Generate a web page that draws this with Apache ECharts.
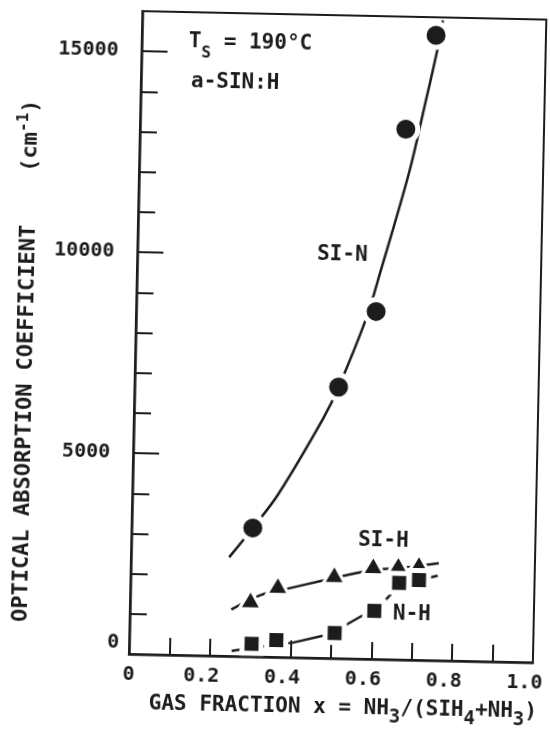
<!DOCTYPE html>
<html><head><meta charset="utf-8">
<script src="https://cdn.jsdelivr.net/npm/echarts@6/dist/echarts.min.js"></script>
<style>
html,body{margin:0;padding:0;background:#fff;overflow:hidden}
/* the reference is a slightly rotated scan */
#c{width:550px;height:733px;transform:rotate(1.2deg);transform-origin:50% 50%}
</style>
</head><body><div id="c"></div>
<script>
// ---- data ----
const xTickLabels = ['0', '0.2', '0.4', '0.6', '0.8', '1.0'];
const yTickLabels = ['0', '5000', '10000', '15000'];

// Si-N (circles) measured points
const siN_x = [0.30, 0.505, 0.594, 0.658, 0.728];
const siN_y = [3200, 6750, 8650, 13200, 15550];
// Si-N hand-drawn fit curve
const siNFit_x = [0.243, 0.30, 0.361, 0.468, 0.505, 0.569, 0.602, 0.669, 0.702, 0.733, 0.744];
const siNFit_y = [2460, 3200, 4050, 5950, 6750, 8450, 9620, 12150, 13720, 15250, 15930];

// Si-H (triangles)
const siH_x = [0.298, 0.365, 0.504, 0.600, 0.662, 0.713];
const siH_y = [1430, 1800, 2100, 2340, 2370, 2400];
const siHFit_x = [0.251, 0.324, 0.394, 0.476, 0.577, 0.63, 0.688, 0.762];
const siHFit_y = [1160, 1540, 1720, 1930, 2170, 2250, 2310, 2420];

// N-H (squares)
const nH_x = [0.303, 0.364, 0.508, 0.605, 0.665, 0.714];
const nH_y = [320, 420, 630, 1200, 1910, 1990];
const nHFit_x = [0.254, 0.332, 0.406, 0.508, 0.536, 0.621, 0.658, 0.714, 0.76];
const nHFit_y = [130, 260, 370, 630, 840, 1350, 1770, 1990, 2110];

// ---- chart ----
const FONT = '"DejaVu Sans Mono", "Liberation Mono", monospace';
const FW = 'bold';
const INK = '#1c1c1c';
const pair = (xs, ys) => xs.map((x, i) => [x, ys[i]]);

const chart = echarts.init(document.getElementById('c'), null, { renderer: 'canvas' });

const lineSeries = (xs, ys, smooth) => ({
  type: 'line', data: pair(xs, ys), smooth: smooth, showSymbol: false,
  lineStyle: { color: INK, width: 2.5 }, z: 2, silent: true
});
const markSeries = (xs, ys, symbol, size, bw) => ({
  type: 'scatter', data: pair(xs, ys), symbol: symbol, symbolSize: size,
  itemStyle: { color: INK, borderColor: '#fff', borderWidth: bw, opacity: 1 }, z: 3, silent: true
});
const txt = (size) => ({ fontFamily: FONT, fontSize: size, fontWeight: FW, color: INK });

const option = {
  backgroundColor: '#ffffff',
  animation: false,
  grid: { left: 135, right: 11, top: 14, bottom: 76, outerBoundsMode: 'none', containLabel: false,
          show: true, borderColor: INK, borderWidth: 2, backgroundColor: 'transparent' },
  xAxis: {
    type: 'value', min: 0, max: 1, interval: 0.2,
    axisLine: { show: true, onZero: false, lineStyle: { color: INK, width: 2.5 } },
    axisTick: { show: true, inside: true, length: 17, lineStyle: { color: INK, width: 2 } },
    minorTick: { show: true, splitNumber: 2, length: 17, lineStyle: { color: INK, width: 2 } },
    splitLine: { show: false },
    axisLabel: Object.assign(txt(20), {
      margin: 11, padding: [0, 16, 0, 0],
      formatter: v => {
        const i = Math.round(v / 0.2); const s = xTickLabels[i];
        if (s === undefined) return '';
        return i === 0 ? '{z|' + s + '}' : s;
      },
      rich: { z: Object.assign(txt(20), { padding: [0, 0, 0, 16] }) }
    }),
    name: 'GAS FRACTION x = NH{s|3}/(SIH{s|4}+NH{s|3})',
    nameLocation: 'middle', nameGap: 31,
    nameTextStyle: Object.assign(txt(21), {
      padding: [0, 0, 0, 26],
      rich: { s: Object.assign(txt(19), { padding: [18, 0, 0, 0] }) }
    })
  },
  yAxis: [
    {
      type: 'value', min: 0, max: 16000, interval: 1000, position: 'left',
      axisLine: { show: true, onZero: false, lineStyle: { color: INK, width: 2.5 } },
      axisTick: { show: true, inside: true, length: 17, lineStyle: { color: INK, width: 2 } },
      splitLine: { show: false },
      axisLabel: Object.assign(txt(20), {
        margin: 10,
        formatter: v => {
          if (v % 5000 !== 0) return '';
          const i = v / 5000; const s = yTickLabels[i];
          if (s === undefined) return '';
          return i === 0 ? '{z|' + s + '}' : '{n|' + s + '}';
        },
        rich: {
          z: Object.assign(txt(20), { padding: [0, 0, 23, 0] }),
          n: Object.assign(txt(20), { padding: [0, 13, 0, 0] })
        }
      })
    },
    {
      type: 'value', min: 0, max: 16000, interval: 5000, position: 'left', offset: 0,
      axisLine: { show: false },
      axisTick: { show: true, inside: true, length: 26, lineStyle: { color: INK, width: 2 } },
      axisLabel: { show: false }, splitLine: { show: false }
    }
  ],
  series: [
    lineSeries(siNFit_x, siNFit_y, 0.35),
    lineSeries(siHFit_x, siHFit_y, 0.3),
    lineSeries(nHFit_x, nHFit_y, false),
    markSeries(siN_x, siN_y, 'circle', 24, 5),
    markSeries(siH_x, siH_y, 'triangle', [22, 19], 3),
    markSeries(nH_x, nH_y, 'rect', 19, 5)
  ],
  graphic: [
    { type: 'text', x: 182, y: 44, style: { text: 'T{s|S} = 190°C', fontFamily: FONT, fontSize: 21, fontWeight: FW, fill: INK, align: 'left', verticalAlign: 'middle',
        rich: { s: { fontFamily: FONT, fontSize: 16, fontWeight: FW, fill: INK, padding: [22, 0, 0, 0] } } } },
    { type: 'text', x: 185, y: 84, style: { text: 'a-SIN:H', fontFamily: FONT, fontSize: 21, fontWeight: FW, fill: INK, align: 'left', verticalAlign: 'middle' } },
    { type: 'text', x: 340, y: 254, style: { text: 'SI-N', fontFamily: FONT, fontSize: 21, fontWeight: FW, fill: INK, align: 'center', verticalAlign: 'middle' } },
    { type: 'text', x: 387, y: 539, style: { text: 'SI-H', fontFamily: FONT, fontSize: 21, fontWeight: FW, fill: INK, align: 'center', verticalAlign: 'middle' } },
    { type: 'text', x: 417, y: 612, style: { text: 'N-H', fontFamily: FONT, fontSize: 21, fontWeight: FW, fill: INK, align: 'center', verticalAlign: 'middle' } },
    { type: 'text', x: 26, y: 366, rotation: Math.PI / 2,
      style: { text: 'OPTICAL ABSORPTION COEFFICIENT    (cm{p|-1})', fontFamily: FONT, fontSize: 22, fontWeight: FW, fill: INK, align: 'center', verticalAlign: 'middle',
        rich: { p: { fontFamily: FONT, fontSize: 16, fontWeight: FW, fill: INK, padding: [0, 0, 14, 0] } } } }
  ]
};
chart.setOption(option);
</script>
</body></html>
